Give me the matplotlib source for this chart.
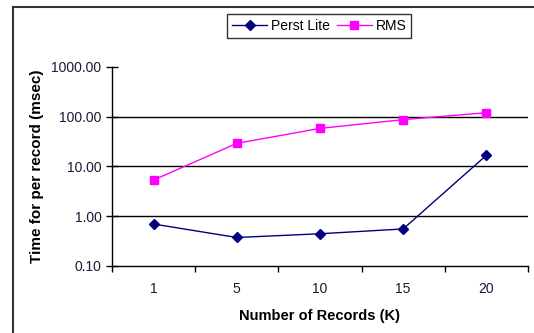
import matplotlib
matplotlib.use('Agg')
import matplotlib.pyplot as plt
from matplotlib.lines import Line2D

plt.rcParams['font.family'] = ['Liberation Sans', 'DejaVu Sans']

# Данные
records = ['1', '5', '10', '15', '20']
perst_lite = [0.69, 0.37, 0.44, 0.55, 16.7]
rms = [5.3, 29, 58, 87, 120]
y_ticks = [0.1, 1, 10, 100, 1000]
y_labels = ['0.10', '1.00', '10.00', '100.00', '1000.00']

fig = plt.figure(figsize=(5.34, 3.33), dpi=100)
ax = fig.add_axes([0.2097, 0.202, 0.779, 0.597])

x = list(range(len(records)))
ax.plot(x, perst_lite, color='#000080', lw=1, marker='D', markersize=5, label='Perst Lite')
ax.plot(x, rms, color='#FF00FF', lw=1, marker='s', markersize=5.5, label='RMS')

ax.set_yscale('log')
ax.set_ylim(0.1, 1000)
ax.set_yticks(y_ticks)
ax.set_yticklabels(y_labels)
ax.minorticks_off()
ax.set_xlim(-0.5, len(records) - 0.5)

# деления оси x между категориями, подписи по центру
ax.set_xticks([i - 0.5 for i in range(len(records) + 1)])
ax.set_xticklabels([])
ax.set_xticks(x, minor=True)
ax.set_xticklabels(records, minor=True)
ax.tick_params(axis='x', which='minor', length=0, pad=12, labelsize=10, labelcolor='#1a1a3a')
ax.tick_params(axis='x', which='major', length=4, direction='out', width=1)
ax.tick_params(axis='y', length=8, direction='inout', width=1, labelsize=10, labelcolor='#1a1a3a')

for v in [1, 10, 100]:
    ax.axhline(v, color='black', lw=1, zorder=0)

ax.spines['top'].set_visible(False)
ax.spines['right'].set_visible(False)
ax.spines['left'].set_linewidth(1)
ax.spines['bottom'].set_linewidth(1)

ax.set_xlabel('Number of Records (K)', fontsize=10.5, fontweight='bold', labelpad=9)
ax.set_ylabel('Time for per record (msec)', fontsize=11, fontweight='bold', labelpad=5)

leg = fig.legend(loc='center', bbox_to_anchor=(0.598, 0.922), ncol=2, fontsize=10,
                 frameon=True, fancybox=False, edgecolor='black', handlelength=2.5,
                 handletextpad=0.3, columnspacing=0.5, borderpad=0.35)
leg.get_frame().set_linewidth(1)

# рамка вокруг диаграммы
fig.add_artist(Line2D([0.0243, 0.0243], [0, 0.979], color='#333333', lw=1.5))
fig.add_artist(Line2D([0.0243, 1], [0.979, 0.979], color='#333333', lw=1.5))

fig.savefig('out.png', dpi=100)
